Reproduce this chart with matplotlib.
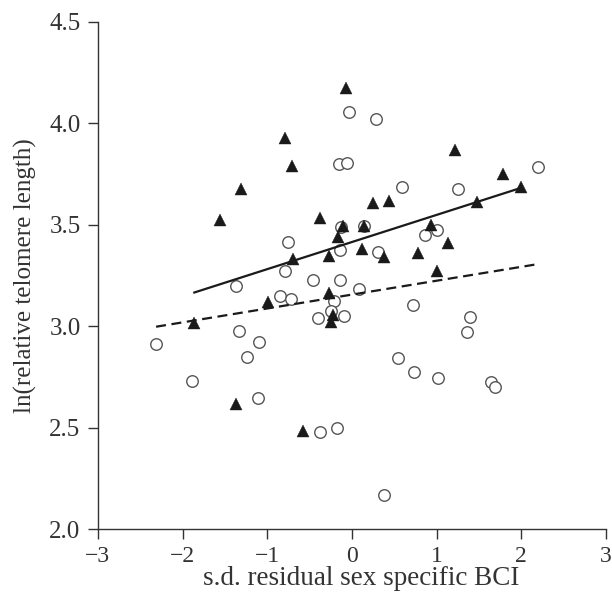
import matplotlib
matplotlib.use("Agg")
import matplotlib.pyplot as plt
import numpy as np

# Triangles (filled)
tri_x = [-0.067, -0.794, -0.712, -1.309, -1.554, -0.375, -0.111, -0.168, -0.697, -0.266,
         0.145, 0.125, 0.385, 0.252, 0.437, 1.217, 0.931, 0.784, 1.136, 1.002,
         1.472, 1.785, 1.992, -0.986, -0.268, -1.861, -0.225, -0.245, -1.368, -0.579]
tri_y = [4.172, 3.928, 3.788, 3.674, 3.526, 3.532, 3.494, 3.438, 3.333, 3.344,
         3.492, 3.383, 3.339, 3.605, 3.617, 3.869, 3.497, 3.360, 3.409, 3.271,
         3.611, 3.751, 3.684, 3.121, 3.163, 3.015, 3.056, 3.020, 2.617, 2.486]

# Circles (open)
cir_x = [-0.040, 0.287, -0.147, -0.052, 0.589, 1.259, 2.199, -0.749, -0.144, -0.130,
         0.139, 0.307, 0.858, 1.002, -0.792, -0.457, -0.144, -1.364, 0.080, -0.848,
         -0.717, -0.217, -0.245, -0.402, -0.089, 0.716, 1.398, 1.359, -2.313, -1.891,
         -1.329, -1.092, -1.234, -1.104, 0.539, 0.736, 1.017, 1.647, 1.694, -0.375,
         -0.177, 0.382]
cir_y = [4.056, 4.022, 3.801, 3.803, 3.688, 3.677, 3.783, 3.414, 3.374, 3.488,
         3.494, 3.364, 3.450, 3.474, 3.271, 3.228, 3.230, 3.199, 3.182, 3.151,
         3.134, 3.125, 3.075, 3.039, 3.051, 3.105, 3.044, 2.970, 2.911, 2.731,
         2.977, 2.924, 2.850, 2.645, 2.845, 2.773, 2.744, 2.724, 2.700, 2.481,
         2.498, 2.169]

# Regression lines (intercept, slope)
tri_fit = (3.415, 0.1336)
cir_fit = (3.156, 0.0684)

x_ticks = [-3, -2, -1, 0, 1, 2, 3]
y_ticks = [2.0, 2.5, 3.0, 3.5, 4.0, 4.5]
x_label = "s.d. residual sex specific BCI"
y_label = "ln(relative telomere length)"

plt.rcParams['font.family'] = ['Liberation Serif', 'DejaVu Serif']
tc = '#333333'

fig = plt.figure(figsize=(6.12, 5.94), dpi=100)
ax = fig.add_axes([0.160, 0.109, 0.830, 0.8543])

ax.plot(cir_x, cir_y, linestyle='none', marker='o', markersize=8.3,
        markerfacecolor='white', markeredgecolor='#555555', markeredgewidth=1.0, zorder=3)
ax.plot(tri_x, tri_y, linestyle='none', marker='^', markersize=9.2,
        markerfacecolor='#1a1a1a', markeredgecolor='#1a1a1a', markeredgewidth=0.3, zorder=4)

xs = np.array([min(tri_x), max(tri_x)])
ax.plot(xs, tri_fit[0] + tri_fit[1] * xs, color='#1a1a1a', lw=1.6, zorder=5)
xc = np.array([min(cir_x), max(cir_x)])
ax.plot(xc, cir_fit[0] + cir_fit[1] * xc, color='#1a1a1a', lw=1.6,
        dashes=(4.5, 2.5), zorder=5)

ax.set_xlim(-3, 3)
ax.set_ylim(2.0, 4.5)
ax.set_xticks(x_ticks)
ax.set_xticklabels([str(t).replace('-', '\u2212') for t in x_ticks])
ax.set_yticks(y_ticks)
ax.set_yticklabels([f"{t:.1f}" for t in y_ticks])

for s in ['top', 'right']:
    ax.spines[s].set_visible(False)
for s in ['left', 'bottom']:
    ax.spines[s].set_color('#333333')
    ax.spines[s].set_linewidth(1.0)

ax.tick_params(axis='both', direction='out', length=7, width=1.0, color='#333333',
               labelcolor=tc)
ax.tick_params(axis='y', pad=5.5, labelsize=18)
ax.tick_params(axis='x', pad=5, labelsize=17)

ax.set_xlabel(x_label, fontsize=19.5, color=tc, labelpad=1)
ax.xaxis.set_label_coords(0.519, -0.072)
ax.set_ylabel(y_label, fontsize=18, color=tc, labelpad=9)

fig.savefig('out.png', dpi=100)
